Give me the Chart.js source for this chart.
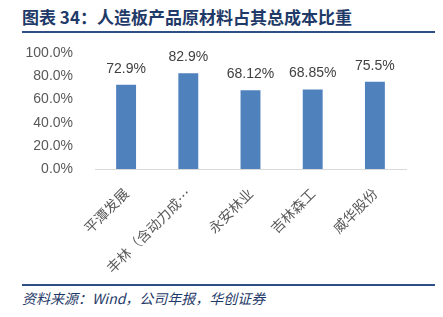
<!DOCTYPE html>
<html>
<head>
<meta charset="utf-8">
<script src="https://cdn.jsdelivr.net/npm/chart.js@4.4.1/dist/chart.umd.min.js"></script>
<style>
  html, body { margin: 0; padding: 0; background: #fff; }
  body { width: 443px; height: 317px; position: relative; overflow: hidden; }
  #title {
    position: absolute; left: 22px; top: 4px;
    font-family: "Noto Sans CJK SC", sans-serif; font-weight: bold;
    font-size: 17px; color: #1f3a68; white-space: nowrap;
  }
  .rule { position: absolute; left: 22px; width: 413px; height: 2px; background: #2e4f85; }
  #source {
    position: absolute; left: 22px; top: 288px;
    font-family: "Noto Sans CJK SC", serif; font-style: italic;
    font-size: 14px; color: #1f3a68; white-space: nowrap;
  }
  #wrap { position: absolute; left: 0; top: 31px; width: 443px; height: 251px; }
</style>
</head>
<body>
<div id="title">图表 34：人造板产品原材料占其总成本比重</div>
<div class="rule" style="top:31px"></div>
<div id="wrap"><canvas id="chart"></canvas></div>
<div class="rule" style="top:284px"></div>
<div id="source">资料来源：Wind，公司年报，华创证券</div>
<script>
const categories = ["平潭发展", "丰林（含动力成…", "永安林业", "吉林森工", "威华股份"];
const values = [72.9, 82.9, 68.12, 68.85, 75.5];
const valueLabels = ["72.9%", "82.9%", "68.12%", "68.85%", "75.5%"];

const barLabels = {
  id: "barLabels",
  afterDatasetsDraw(chart) {
    const ctx = chart.ctx;
    const meta = chart.getDatasetMeta(0);
    ctx.save();
    ctx.font = "14px 'Liberation Sans', Arial, sans-serif";
    ctx.fillStyle = "#404040";
    ctx.textAlign = "center";
    ctx.textBaseline = "bottom";
    meta.data.forEach((bar, i) => {
      ctx.fillText(valueLabels[i], bar.x, bar.y - 9);
    });
    ctx.restore();
  }
};

new Chart(document.getElementById("chart"), {
  type: "bar",
  data: {
    labels: categories,
    datasets: [{
      data: values,
      backgroundColor: "#4f81bd",
      borderColor: "#4f81bd",
      categoryPercentage: 1,
      barPercentage: 0.32
    }]
  },
  options: {
    responsive: true,
    maintainAspectRatio: false,
    animation: false,
    layout: { padding: { left: 0, right: 37, top: 5, bottom: 0 } },
    plugins: { legend: { display: false }, tooltip: { enabled: false } },
    scales: {
      y: {
        min: 0, max: 100,
        ticks: {
          stepSize: 20,
          padding: 14,
          color: "#595959",
          font: { family: "'Liberation Sans', Arial, sans-serif", size: 14 },
          callback: v => v.toFixed(1) + "%"
        },
        grid: { display: false },
        border: { display: false },
        afterFit: s => { s.width = 95; }
      },
      x: {
        ticks: {
          minRotation: 45, maxRotation: 45,
          autoSkip: false,
          padding: 8,
          color: "#595959",
          font: { family: "'Noto Sans CJK SC', sans-serif", size: 14 }
        },
        grid: { display: false },
        border: { display: true, color: "#d9d9d9", width: 1 },
        afterFit: s => { s.height = 113; }
      }
    }
  },
  plugins: [barLabels]
});
</script>
</body>
</html>
